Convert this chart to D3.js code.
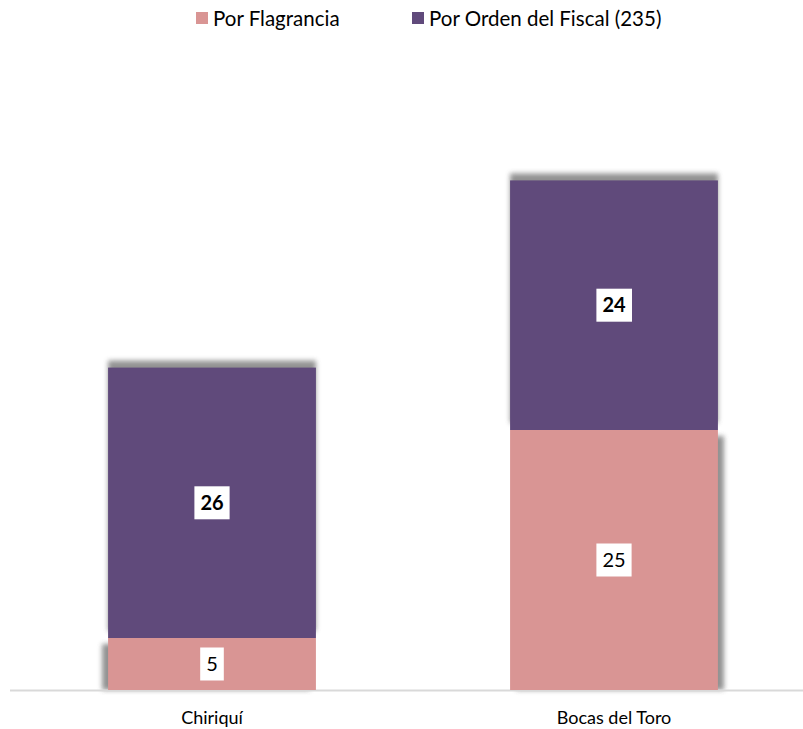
<!DOCTYPE html>
<html>
<head>
<meta charset="utf-8">
<script src="https://cdn.jsdelivr.net/npm/d3@7"></script>
<style>
  body { margin: 0; background: #fff; }
  text { font-family: Lato, "Open Sans", sans-serif; fill: #000; }
</style>
</head>
<body>
<div id="chart"></div>
<script>
// chart data
const categories = ['Chiriquí', 'Bocas del Toro'];
const seriesNames = ['Por Flagrancia', 'Por Orden del Fiscal (235)'];
const flagrancia = [5, 25];
const ordenFiscal = [26, 24];

const colors = ['#d99594', '#604a7b'];

const width = 803;
const height = 729;

const svg = d3.select('#chart')
  .append('svg')
  .attr('width', width)
  .attr('height', height);

const defs = svg.append('defs');
// soft blur used for the bar shadows
defs.append('filter')
  .attr('id', 'blur')
  .attr('x', '-10%').attr('y', '-10%')
  .attr('width', '120%').attr('height', '120%')
  .append('feGaussianBlur').attr('stdDeviation', 2.5);

const x = d3.scaleBand()
  .domain(categories)
  .range([11, 815])
  .paddingInner(0.483)
  .paddingOuter(0.2415);

const y = d3.scaleLinear()
  .domain([0, 60])
  .range([690, 66]);

// stack the two series
const rows = categories.map((c, i) => ({
  cat: c,
  flagrancia: flagrancia[i],
  orden: ordenFiscal[i]
}));
const stack = d3.stack().keys(['flagrancia', 'orden']);
const layers = stack(rows);

// shadows behind segments
const shadowOffsets = [
  [[-6, 0], [6, 0]],   // pink: left for Chiriquí, right for Bocas
  [[0, -7], [0, -7]]   // purple: above
];
layers.forEach((layer, li) => {
  svg.append('g')
    .selectAll('rect')
    .data(layer)
    .join('rect')
    .attr('x', (d, i) => x(d.data.cat) + shadowOffsets[li][i][0])
    .attr('y', (d, i) => y(d[1]) + shadowOffsets[li][i][1] + (li === 0 ? 6 : 0))
    .attr('width', x.bandwidth())
    .attr('height', d => y(d[0]) - y(d[1]) - (li === 0 ? 6 : 0))
    .attr('fill', '#7f7f7f')
    .attr('opacity', 0.85)
    .attr('filter', 'url(#blur)');
});

// axis line
svg.append('line')
  .attr('x1', 10).attr('x2', 803)
  .attr('y1', 690.5).attr('y2', 690.5)
  .attr('stroke', '#d9d9d9')
  .attr('stroke-width', 2);

// bars
layers.forEach((layer, li) => {
  svg.append('g')
    .selectAll('rect')
    .data(layer)
    .join('rect')
    .attr('x', d => x(d.data.cat))
    .attr('y', d => y(d[1]))
    .attr('width', x.bandwidth())
    .attr('height', d => y(d[0]) - y(d[1]))
    .attr('fill', colors[li]);
});

// value labels with white boxes
layers.forEach((layer, li) => {
  const g = svg.append('g')
    .selectAll('g')
    .data(layer)
    .join('g')
    .attr('transform', d => `translate(${x(d.data.cat) + x.bandwidth() / 2}, ${(y(d[0]) + y(d[1])) / 2})`);

  const t = g.append('text')
    .attr('text-anchor', 'middle')
    .attr('dy', '0.35em')
    .style('font-size', '20px')
    .style('font-weight', li === 1 ? 'bold' : 'normal')
    .text(d => d[1] - d[0]);

  t.each(function () {
    const b = this.getBBox();
    d3.select(this.parentNode).insert('rect', 'text')
      .attr('x', b.x - 6)
      .attr('y', -16.5)
      .attr('width', b.width + 12)
      .attr('height', 33)
      .attr('fill', '#fff');
  });
});

// category labels
svg.append('g')
  .selectAll('text')
  .data(categories)
  .join('text')
  .attr('x', d => x(d) + x.bandwidth() / 2)
  .attr('y', 724)
  .attr('text-anchor', 'middle')
  .style('font-size', '18px')
  .text(d => d);

// legend
const legendX = [196, 412];
const legend = svg.append('g')
  .selectAll('g')
  .data(seriesNames)
  .join('g')
  .attr('transform', (d, i) => `translate(${legendX[i]}, 12)`);
legend.append('rect')
  .attr('width', 12).attr('height', 12)
  .attr('fill', (d, i) => colors[i]);
legend.append('text')
  .attr('x', 17)
  .attr('y', 13.5)
  .style('font-size', '20.5px')
  .text(d => d);
</script>
</body>
</html>
